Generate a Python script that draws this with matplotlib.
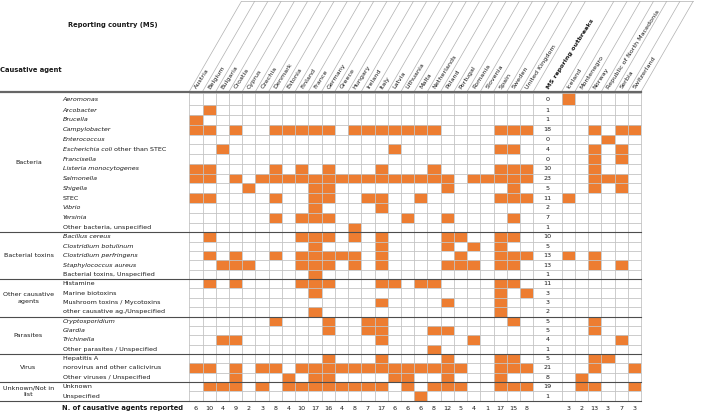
import numpy as np
import matplotlib
matplotlib.use("Agg")
import matplotlib.pyplot as plt
from matplotlib.patches import Rectangle

# ---------------- data ----------------
ms_countries = ["Austria", "Belgium", "Bulgaria", "Croatia", "Cyprus", "Czechia", "Denmark",
                "Estonia", "Finland", "France", "Germany", "Greece", "Hungary", "Ireland",
                "Italy", "Latvia", "Lithuania", "Malta", "Netherlands", "Poland", "Portugal",
                "Romania", "Slovenia", "Spain", "Sweden", "United Kingdom"]
non_ms_countries = ["Iceland", "Montenegro", "Norway", "Republic of North Macedonia",
                    "Serbia", "Switzerland"]
count_header = "MS reporing outbreaks"

groups = ["Bacteria", "Bacterial toxins", "Other causative\nagents", "Parasites", "Virus",
          "Unknown/Not in\nlist"]
group_sizes = [14, 5, 4, 4, 3, 2]

agents = ["Aeromonas", "Arcobacter", "Brucella", "Campylobacter", "Enterococcus",
          "Escherichia coli|other than STEC", "Francisella", "Listeria monocytogenes",
          "Salmonella", "Shigella", "STEC", "Vibrio", "Yersinia", "Other bacteria, unspecified",
          "Bacillus cereus", "Clostridium botulinum", "Clostridium perfringens",
          "Staphylococcus aureus", "Bacterial toxins, Unspecified",
          "Histamine", "Marine biotoxins", "Mushroom toxins / Mycotoxins",
          "other causative ag./Unspecified",
          "Cryptosporidium", "Giardia", "Trichinella", "Other parasites / Unspecified",
          "Hepatitis A", "norovirus and other calicivirus", "Other viruses / Unspecified",
          "Unknown", "Unspecified"]
italic_agents = ["Aeromonas", "Arcobacter", "Brucella", "Campylobacter", "Enterococcus",
                 "Escherichia coli", "Francisella", "Listeria monocytogenes", "Salmonella",
                 "Shigella", "Vibrio", "Yersinia", "Bacillus cereus", "Clostridium botulinum",
                 "Clostridium perfringens", "Staphylococcus aureus", "Cryptosporidium",
                 "Giardia", "Trichinella"]

# indices of MS countries reporting each agent
ms_reports = [
    [],
    [1],
    [0],
    [0, 1, 3, 6, 7, 8, 9, 10, 12, 13, 14, 15, 16, 17, 18, 23, 24, 25],
    [],
    [2, 15, 23, 24],
    [],
    [0, 1, 6, 8, 10, 14, 18, 23, 24, 25],
    [0, 1, 3, 5, 6, 7, 8, 9, 10, 11, 12, 13, 14, 15, 16, 17, 18, 19, 21, 22, 23, 24, 25],
    [4, 9, 10, 19, 24],
    [0, 1, 6, 9, 10, 13, 14, 17, 23, 24, 25],
    [9, 14],
    [6, 8, 9, 10, 16, 19, 24],
    [12],
    [1, 8, 9, 10, 12, 14, 19, 20, 23, 24],
    [9, 14, 19, 21, 23],
    [1, 3, 6, 8, 9, 10, 11, 12, 14, 20, 23, 24, 25],
    [2, 3, 4, 8, 9, 10, 12, 14, 19, 20, 21, 23, 24],
    [9],
    [1, 3, 8, 9, 10, 14, 15, 17, 18, 23, 24],
    [9, 23, 25],
    [14, 19, 23],
    [9, 23],
    [6, 10, 13, 14, 24],
    [10, 13, 14, 18, 19],
    [2, 3, 14, 21],
    [18],
    [10, 14, 19, 23, 24],
    [0, 1, 3, 5, 6, 8, 9, 10, 11, 12, 13, 14, 15, 16, 17, 18, 19, 20, 23, 24, 25],
    [3, 7, 9, 10, 15, 16, 19, 23],
    [1, 2, 3, 5, 7, 8, 9, 10, 11, 12, 13, 14, 16, 18, 19, 20, 23, 24, 25],
    [17],
]
# indices of non-MS countries reporting each agent
non_ms_reports = [
    [0], [], [], [2, 4, 5], [3], [2, 4], [2, 4], [2], [2, 3, 4], [2, 4], [0], [], [], [],
    [], [], [0, 2], [2, 4], [],
    [], [], [], [],
    [2], [2], [4], [],
    [2, 3], [2, 5], [1],
    [1, 2, 5], [],
]

# ---------------- matrices ----------------
n_rows = len(agents)
ms_mat = np.zeros((n_rows, len(ms_countries)), dtype=int)
for r, idx in enumerate(ms_reports):
    ms_mat[r, idx] = 1
nms_mat = np.zeros((n_rows, len(non_ms_countries)), dtype=int)
for r, idx in enumerate(non_ms_reports):
    nms_mat[r, idx] = 1
row_counts = ms_mat.sum(axis=1)
ms_col_totals = ms_mat.sum(axis=0)
nms_col_totals = nms_mat.sum(axis=0)

# ---------------- layout ----------------
W, H = 709, 415
fig = plt.figure(figsize=(W / 100, H / 100), dpi=100)
ax = fig.add_axes([0, 0, 1, 1])
ax.set_xlim(0, W)
ax.set_ylim(H, 0)
ax.axis("off")

ORANGE = "#ED7D31"
TXT = "#1a1a1a"
FS = 4.55
x0 = 189.3
cw = 13.23
ms_right = x0 + len(ms_countries) * cw
count_w = 28.4
nms_x0 = ms_right + count_w
grid_right = nms_x0 + len(non_ms_countries) * cw
y_top = 93.0
y_edges = np.concatenate([[y_top], np.linspace(105.3, 232.3, 14), np.linspace(232.3, 400.7, 19)[1:]])
y_bottom = y_edges[-1]

ms_x = x0 + np.arange(len(ms_countries) + 1) * cw
nms_x = nms_x0 + np.arange(len(non_ms_countries) + 1) * cw

# orange cells
for r in range(n_rows):
    h = y_edges[r + 1] - y_edges[r]
    for c in np.nonzero(ms_mat[r])[0]:
        ax.add_patch(Rectangle((ms_x[c], y_edges[r]), cw, h, fc=ORANGE, ec="none", zorder=1))
    for c in np.nonzero(nms_mat[r])[0]:
        ax.add_patch(Rectangle((nms_x[c], y_edges[r]), cw, h, fc=ORANGE, ec="none", zorder=1))

# grid lines
GRID = "#c4c4c4"
for x in list(ms_x) + [nms_x0] + list(nms_x[1:]):
    ax.plot([x, x], [y_top, y_bottom], color=GRID, lw=0.6, zorder=2)
for y in y_edges:
    ax.plot([x0, grid_right], [y, y], color=GRID, lw=0.6, zorder=2)

# group separators
gb = np.cumsum(group_sizes)
for g in gb:
    ax.plot([0, grid_right], [y_edges[g], y_edges[g]], color="#4d4d4d", lw=0.8, zorder=3)
ax.plot([0, grid_right], [92.2, 92.2], color="#666666", lw=1.6, zorder=3)

# slanted header lines
dx_top = 52
y_head_top = 1.5
for x in list(ms_x) + [nms_x0] + list(nms_x[1:]):
    ax.plot([x, x + dx_top], [91.5, y_head_top], color="#b0b0b0", lw=0.5, zorder=2)
ax.plot([x0 + dx_top, grid_right + dx_top], [y_head_top, y_head_top], color="#b0b0b0", lw=0.5)

# column labels
ROT = 57
for i, name in enumerate(ms_countries):
    ax.text(ms_x[i] + cw / 2, 88.5, name, rotation=ROT, rotation_mode="anchor",
            ha="left", va="center", fontsize=FS, color=TXT)
ax.text(ms_right + count_w / 2, 88.5, count_header, rotation=ROT, rotation_mode="anchor",
        ha="left", va="center", fontsize=FS, color=TXT, fontweight="bold")
for j, name in enumerate(non_ms_countries):
    ax.text(nms_x[j] + cw / 2, 88.5, name, rotation=ROT, rotation_mode="anchor",
            ha="left", va="center", fontsize=FS, color=TXT)

# headers
ax.text(68, 25, "Reporting country (MS)", fontsize=FS + 0.3, fontweight="bold",
        ha="left", va="center", color=TXT)
ax.text(0.5, 70, "Causative agent", fontsize=FS + 0.3, fontweight="bold",
        ha="left", va="center", color=TXT)

# agent names
for r, name in enumerate(agents):
    yc = (y_edges[r] + y_edges[r + 1]) / 2
    if "|" in name:
        a, b = name.split("|")
        t = ax.text(62.7, yc, a, fontsize=FS, style="italic", ha="left", va="center", color=TXT)
        ax.annotate(" " + b, xy=(1, 0.5), xycoords=t, fontsize=FS, ha="left", va="center",
                    color=TXT)
    else:
        ax.text(62.7, yc, name, fontsize=FS, ha="left", va="center", color=TXT,
                style="italic" if name in italic_agents else "normal")
    ax.text(ms_right + count_w / 2, yc, str(row_counts[r]), fontsize=FS, ha="center",
            va="center", color=TXT)

# group labels
starts = np.concatenate([[0], gb[:-1]])
for g, s, n in zip(groups, starts, group_sizes):
    yc = (y_edges[s] + y_edges[s + n]) / 2
    ax.text(28.5, yc, g, fontsize=FS, ha="center", va="center", color=TXT, linespacing=1.5)

# totals
y_tot = 408.3
ax.text(123, y_tot, "N. of causative agents reported", fontsize=FS + 0.3, fontweight="bold",
        ha="center", va="center", color=TXT)
for i, v in enumerate(ms_col_totals):
    ax.text(ms_x[i] + cw / 2, y_tot, str(v), fontsize=FS, ha="center", va="center", color=TXT)
for j, v in enumerate(nms_col_totals):
    ax.text(nms_x[j] + cw / 2, y_tot, str(v), fontsize=FS, ha="center", va="center", color=TXT)

fig.savefig("out.png", dpi=100)
